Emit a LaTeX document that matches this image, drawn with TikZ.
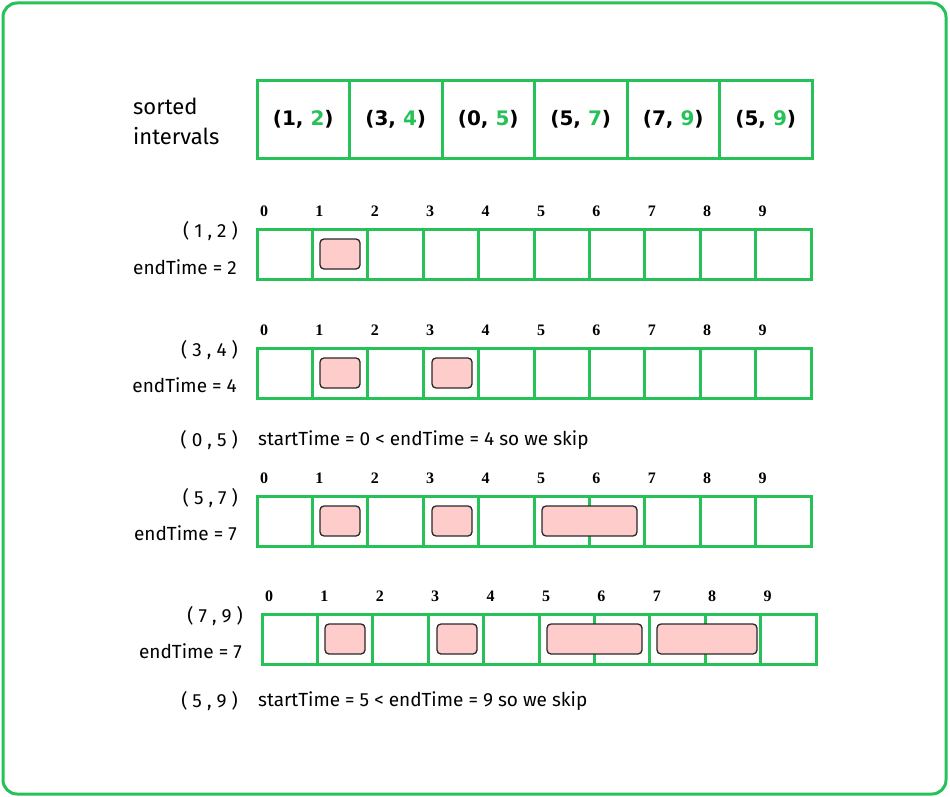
\documentclass[tikz,border=0pt]{standalone}
\usepackage{fontspec}
\setmainfont{Fira Sans}
\newfontfamily\boldsans{DejaVu Sans}
\newfontfamily\numserif{Liberation Serif}
\definecolor{grn}{RGB}{38,194,88}
\definecolor{pinkfill}{RGB}{255,204,204}
\definecolor{barline}{RGB}{40,40,40}
\begin{document}
\begin{tikzpicture}[x=1pt,y=-1pt,
  frame/.style={draw=grn,line width=3pt,rounded corners=14pt},
  topcell/.style={draw=grn,line width=3pt,minimum width=92.5pt,minimum height=77pt,inner sep=0pt,outer sep=0pt,
     font=\boldsans\bfseries\fontsize{20}{24}\selectfont},
  cell/.style={draw=grn,line width=3pt,minimum width=55.4pt,minimum height=50pt,inner sep=0pt,outer sep=0pt},
  bar/.style={draw=barline,fill=pinkfill,line width=1.3pt,rounded corners=4pt},
  num/.style={font=\numserif\bfseries\fontsize{16}{18}\selectfont,inner sep=0pt},
  lbl/.style={font=\fontsize{19}{22}\selectfont,inner sep=0pt},
  g/.style={text=grn}]
\useasboundingbox (0,0) rectangle (950,797);
\fill[white] (0,0) rectangle (950,797);
\draw[frame] (3,3) rectangle (946,794);

% top list
\node[lbl,font=\fontsize{22}{30}\selectfont,anchor=west,align=left] (title) at (133,121) {sorted\\intervals};
\foreach \i/\a/\b in {0/1/2,1/3/4,2/0/5,3/5/7,4/7/9,5/5/9}{
  \node[topcell] (t\i) at ({257+46.25+92.5*\i},119.5) {(\a, \textcolor{grn}{\b})};
}

% row macro
\newcommand{\gridrow}[3]{% name, x0, ytop
  \foreach \k in {0,...,9}{
    \node[cell] (#1c\k) at ({#2+27.7+55.4*\k},{#3+25}) {};
    \node[num] (#1n\k) at ({#2+7+55.4*\k},{#3-18}) {\k};
  }
}

% row 1
\gridrow{a}{257}{229}
\node[lbl,anchor=east] (a1) at (238,231) {( 1 , 2 )};
\node[lbl,anchor=east] (a2) at (237,267) {endTime = 2};
\draw[bar] (320,239) rectangle (360,269);

% row 2
\gridrow{b}{257}{348}
\node[lbl,anchor=east] (b1) at (238,350) {( 3 , 4 )};
\node[lbl,anchor=east] (b2) at (237,385) {endTime = 4};
\draw[bar] (320,358) rectangle (360,388);
\draw[bar] (432,358) rectangle (472,388);

% skip 1
\node[lbl,anchor=east] (s1) at (238,440) {( 0 , 5 )};
\node[lbl,anchor=west] (s1t) at (258,440) {startTime = 0 < endTime = 4 so we skip};

% row 3
\gridrow{c}{257}{496}
\node[lbl,anchor=east] (c1) at (238,498) {( 5 , 7 )};
\node[lbl,anchor=east] (c2) at (237,533) {endTime = 7};
\draw[bar] (320,506) rectangle (360,536);
\draw[bar] (432,506) rectangle (472,536);
\draw[bar] (542,506) rectangle (637,536);

% row 4
\gridrow{d}{262}{614}
\node[lbl,anchor=east] (d1) at (243,616) {( 7 , 9 )};
\node[lbl,anchor=east] (d2) at (242,651) {endTime = 7};
\draw[bar] (325,624) rectangle (365,654);
\draw[bar] (437,624) rectangle (477,654);
\draw[bar] (547,624) rectangle (642,654);
\draw[bar] (657,624) rectangle (757,654);

% skip 2
\node[lbl,anchor=east] (s2) at (238,701) {( 5 , 9 )};
\node[lbl,anchor=west] (s2t) at (258,701) {startTime = 5 < endTime = 9 so we skip};
\end{tikzpicture}
\end{document}
